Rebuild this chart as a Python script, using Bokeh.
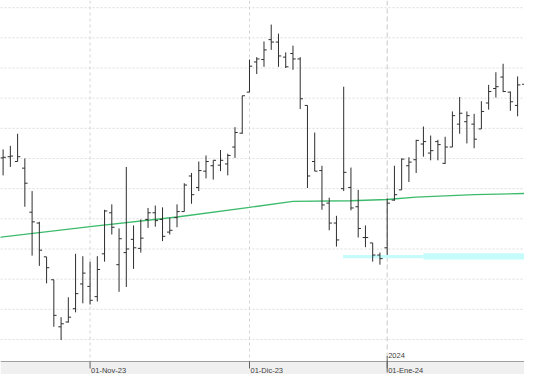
from bokeh.plotting import figure
from bokeh.models import Range1d, Span, BoxAnnotation, ColumnDataSource
from bokeh.embed import file_html
from bokeh.resources import INLINE
from bokeh.core.properties import value

# ---- data (daily OHLC, trading-day index 0 = 16-Oct-23) ----
opens = [11.01, 11.03, 10.95, 10.84, 10.11, 9.93, 9.37, 8.99, 8.21, 8.29,
         8.51, 8.92, 8.88, 8.71, 9.42, 10.10, 9.24, 9.44, 9.66, 9.51,
         9.99, 10.10, 9.99, 9.78, 10.02, 10.12, 10.71, 10.52, 10.79, 10.88,
         10.89, 10.91, 11.19, 11.42, 12.10, 12.60, 12.64, 12.97, 12.93, 12.68,
         12.74, 12.65, 11.88, 10.95, 10.80, 10.26, 9.93, 10.50, 10.52, 10.20,
         9.69, 9.60, 9.40, 9.52, 10.31, 10.48, 10.88, 10.98, 11.24, 11.09,
         11.28, 10.92, 11.19, 11.57, 11.61, 11.57, 11.49, 11.92, 12.16, 12.35,
         12.10, 11.88, 12.23]
highs = [11.15, 11.21, 11.41, 11.00, 10.46, 9.95, 9.37, 8.99, 8.37, 8.70,
         9.42, 9.38, 9.29, 9.38, 10.15, 10.24, 9.84, 10.86, 9.89, 9.99,
         10.18, 10.22, 10.19, 10.02, 10.24, 10.59, 10.76, 10.95, 11.05, 10.97,
         11.14, 11.08, 11.52, 12.04, 12.64, 12.68, 12.94, 13.22, 13.07, 12.76,
         12.87, 12.68, 11.88, 11.43, 10.88, 10.35, 10.05, 12.19, 10.85, 10.48,
         9.89, 9.60, 9.44, 10.34, 10.88, 11.00, 11.02, 11.31, 11.53, 11.38,
         11.31, 11.36, 11.78, 12.02, 11.78, 11.74, 11.95, 12.22, 12.43, 12.57,
         12.11, 12.36, 12.30]
lows = [10.72, 10.86, 10.95, 10.20, 9.39, 9.22, 8.93, 8.21, 7.99, 8.28,
        8.45, 8.60, 8.58, 8.63, 9.29, 9.74, 8.79, 8.87, 9.17, 9.44,
        9.85, 9.87, 9.63, 9.74, 9.86, 10.12, 10.25, 10.46, 10.67, 10.65,
        10.79, 10.72, 11.01, 11.41, 12.10, 12.40, 12.52, 12.80, 12.52, 12.50,
        12.47, 11.82, 10.51, 10.79, 10.15, 9.81, 9.54, 10.46, 10.14, 9.69,
        9.53, 9.29, 9.24, 9.40, 10.30, 10.48, 10.61, 10.76, 11.03, 10.97,
        10.97, 10.91, 11.19, 11.41, 11.25, 11.17, 11.49, 11.81, 12.01, 12.10,
        11.79, 11.70, 12.15]
closes = [11.02, 11.04, 11.03, 10.59, 9.95, 9.48, 9.19, 8.40, 8.26, 8.37,
          8.76, 9.10, 8.65, 9.16, 10.13, 9.86, 9.67, 9.50, 9.52, 9.68,
          10.10, 9.97, 9.71, 9.81, 10.12, 10.56, 10.40, 10.80, 10.95, 10.97,
          10.97, 11.05, 11.43, 12.04, 12.53, 12.65, 12.80, 12.93, 12.70, 12.52,
          12.65, 11.99, 10.71, 10.79, 10.23, 9.93, 9.65, 10.77, 10.18, 9.84,
          9.69, 9.40, 9.34, 10.26, 10.40, 10.99, 10.94, 11.30, 11.28, 11.13,
          11.23, 11.19, 11.71, 11.75, 11.71, 11.32, 11.78, 12.11, 12.19, 12.11,
          11.94, 12.22, 12.25]

# moving average (green), read at these trading-day indices
ma_idx = [-1, 0, 12, 24, 34, 40, 48, 53, 57, 61, 65, 72]
ma_val = [9.68, 9.70, 9.87, 10.03, 10.19, 10.29, 10.30, 10.32, 10.36, 10.38, 10.40, 10.42]

# light cyan support zone
zone_left = [46.9, 58.0]
zone_right = [58.0, 74.0]
zone_top = [9.40, 9.43]
zone_bottom = [9.345, 9.325]

# x-axis labels
tick_idx = [12, 34, 53]
tick_labels = ["01-Nov-23", "01-Dic-23", "01-Ene-24"]
year_idx = [53]
year_labels = ["2024"]

# horizontal grid levels
grid_levels = [8.0, 8.5, 9.0, 9.5, 10.0, 10.5, 11.0, 11.5, 12.0, 12.5, 13.0, 13.5]

# ---- layout ----
W, H, STRIP = 524, 374, 13
y_top, y_axis = 13.619, 7.635
per_px = (y_top - y_axis) / (H - STRIP)
y_start = y_axis - STRIP * per_px

p = figure(width=W, height=H, x_range=Range1d(-0.36, 71.95), y_range=Range1d(y_start, y_top),
           output_backend="svg", toolbar_location=None, x_axis_location=None,
           y_axis_location=None, min_border=0, outline_line_color=None)
p.grid.visible = False
p.background_fill_color = "white"
p.border_fill_color = "white"

for lvl in grid_levels:
    p.add_layout(Span(location=lvl, dimension="width", line_color="#dcdcdc",
                      line_width=1, line_dash="2 2", level="underlay"))
for t in tick_idx:
    p.add_layout(Span(location=t, dimension="height",
                      line_color="#d4d4d4" if t not in year_idx else "#c8c8c8",
                      line_width=1, line_dash="3 3" if t not in year_idx else "5 3",
                      level="underlay"))

p.add_layout(BoxAnnotation(top=y_axis, fill_color="#f0f0f0", fill_alpha=1.0,
                           line_alpha=0, level="underlay"))
p.add_layout(Span(location=y_axis, dimension="width", line_color="#a0a0a0",
                  line_width=1, level="underlay"))

# zone
p.quad(left=zone_left, right=zone_right, top=zone_top, bottom=zone_bottom,
       fill_color="#c6fbfb", line_color=None)

# moving average
p.line(ma_idx, ma_val, line_color="#3dbb6c", line_width=1.3)

# OHLC bars
idx = list(range(len(opens)))
tw = 0.38
src = ColumnDataSource(dict(
    x=idx, o=opens, h=highs, l=lows, c=closes,
    xl=[i - tw for i in idx], xr=[i + tw for i in idx]))
bar_col = "#2e2e2e"
p.segment(x0="x", y0="l", x1="x", y1="h", source=src, line_color=bar_col, line_width=1)
p.segment(x0="xl", y0="o", x1="x", y1="o", source=src, line_color=bar_col, line_width=1)
p.segment(x0="x", y0="c", x1="xr", y1="c", source=src, line_color=bar_col, line_width=1)

# axis ticks and labels
lab_y = y_axis - 8.5 * per_px
p.segment(x0=tick_idx, y0=[y_axis] * len(tick_idx), x1=tick_idx,
          y1=[y_axis - 7 * per_px] * len(tick_idx), line_color="#606060", line_width=1)
p.segment(x0=year_idx, y0=[y_axis + 5.5 * per_px], x1=year_idx,
          y1=[y_axis - 11 * per_px], line_color="#606060", line_width=1)
p.text(x=tick_idx, y=[lab_y] * len(tick_idx), text=tick_labels, text_align="left",
       text_baseline="middle", text_font=value("Liberation Sans"), text_font_size="7.5px",
       text_color="#404040", x_offset=1)
p.text(x=year_idx, y=[y_axis + 6 * per_px], text=year_labels, text_align="left",
       text_baseline="middle", text_font=value("Liberation Sans"), text_font_size="7.5px",
       text_color="#404040", x_offset=1)

open("out.html", "w").write(file_html(p, INLINE))
